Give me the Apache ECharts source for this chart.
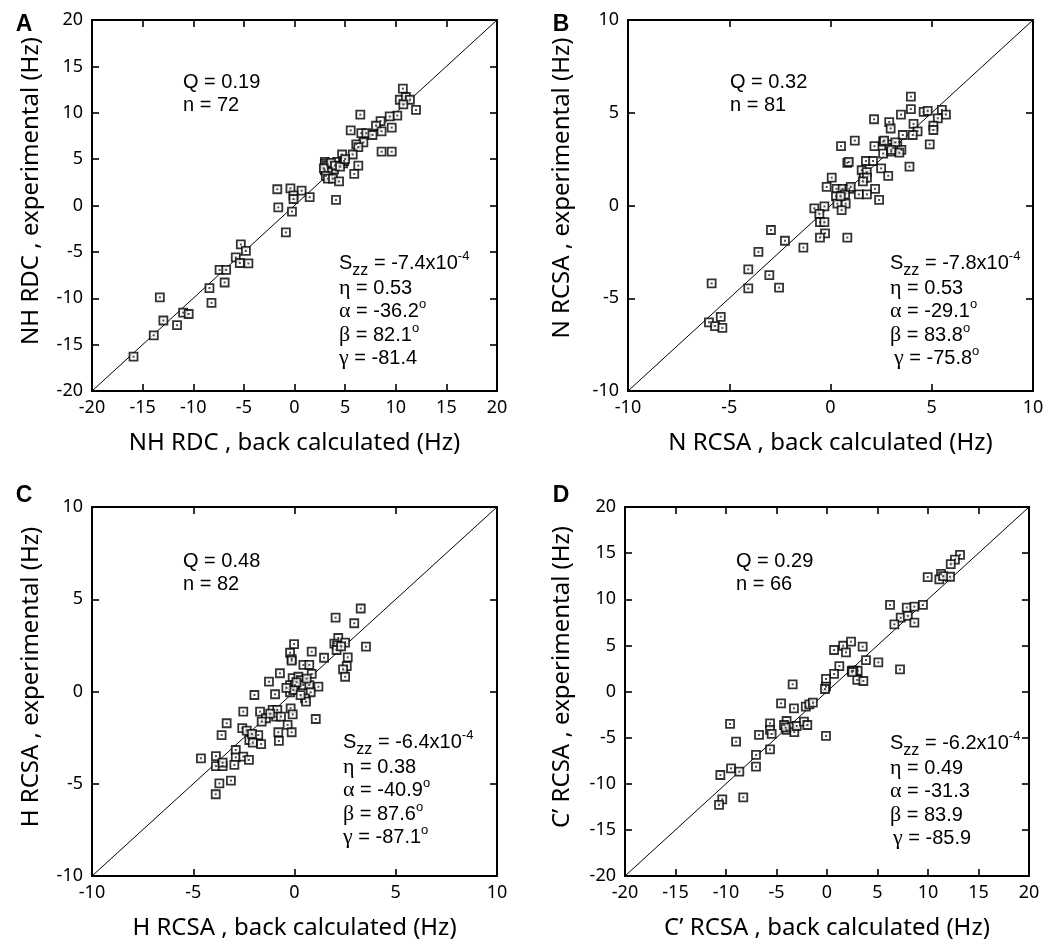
<!DOCTYPE html>
<html><head><meta charset="utf-8">
<script src="https://cdn.jsdelivr.net/npm/echarts@6/dist/echarts.min.js"></script>
<style>html,body{margin:0;padding:0;background:#fff}#c{width:1050px;height:949px}</style>
</head><body><div id="c"></div>
<script>
// ---------- data ----------
const rangeAD = [-20, 20];
const rangeBC = [-10, 10];
const tickStep = 5;

const ptsA = [
 [10.7,12.6],[10.4,11.4],[11.0,11.7],[11.4,11.4],[10.75,10.9],[12.0,10.3],[6.5,9.8],[10.15,9.7],[9.4,9.6],[8.5,9.1],
 [8.05,8.6],[8.6,8.0],[9.6,8.4],[5.55,8.1],[6.6,7.8],[7.1,7.8],[7.7,7.6],[6.8,6.8],[6.1,6.6],[6.3,6.3],
 [5.75,5.5],[4.7,5.5],[8.6,5.8],[9.6,5.8],
 [3.0,4.7],[4.2,4.7],[4.8,4.55],[3.5,4.2],[3.9,3.9],[3.0,3.8],[4.9,4.8],[3.0,4.5],[3.2,4.3],[3.6,4.6],
 [4.0,4.3],[4.5,4.2],[3.3,3.6],[5.0,5.0],[2.9,4.0],
 [6.3,4.3],[5.9,3.4],[3.1,3.2],[3.3,2.9],[3.8,2.9],[4.4,2.6],[4.1,0.6],
 [-1.7,1.75],[-0.4,1.85],[0.7,1.6],[-0.1,1.1],[-0.1,0.7],[1.5,0.9],[-1.6,-0.2],[-0.25,-0.65],[-0.85,-2.9],
 [-5.3,-4.2],[-4.8,-4.9],[-5.8,-5.6],[-5.4,-6.2],[-4.55,-6.25],[-7.4,-6.95],[-6.75,-6.95],[-6.9,-8.3],
 [-8.4,-8.9],[-8.2,-10.5],[-13.3,-9.9],[-11.0,-11.55],[-10.45,-11.7],[-12.95,-12.4],[-11.6,-12.9],[-13.9,-14.0],[-15.9,-16.3]
];
const ptsB = [
 [3.97,5.87],[3.97,5.2],[3.48,4.9],[2.15,4.65],[2.9,4.5],[2.97,4.15],[4.6,5.05],[4.8,5.1],[5.5,5.15],[5.7,4.9],
 [5.3,4.7],[4.1,4.4],[4.3,4.0],[4.06,3.8],[5.08,4.3],[5.08,4.07],[4.9,3.3],[3.57,3.8],[3.9,2.1],[0.52,3.2],
 [1.2,3.5],[2.17,3.2],[2.6,3.45],[2.6,2.8],
 [2.9,3.3],[3.1,3.1],[3.3,3.2],[3.5,3.0],[3.0,2.9],[3.4,2.85],[3.2,3.4],
 [0.83,2.3],[1.75,2.4],[2.1,2.4],[2.5,2.0],[1.54,1.9],[1.79,1.8],[1.65,1.5],[1.8,1.5],[1.6,1.3],[2.85,1.6],
 [0.06,1.5],[-0.19,1.0],[0.3,0.9],[0.6,0.9],[0.93,0.9],[2.2,0.9],[0.27,0.5],[0.72,0.6],[1.4,0.6],[1.8,0.6],
 [2.4,0.3],[0.34,0.1],[0.75,0.1],[0.55,-0.25],[-0.8,-0.15],[-0.3,-0.05],[-0.55,-0.45],
 [-0.52,-0.9],[-0.3,-0.9],[-0.27,-1.5],[-0.52,-1.73],[0.83,-1.73],[-2.94,-1.32],[-2.25,-1.9],[-1.34,-2.27],
 [-3.56,-2.5],[-4.06,-3.44],[-3.02,-3.75],[-4.06,-4.47],[-2.54,-4.43],[-5.87,-4.2],[-5.42,-6.0],[-6.0,-6.3],
 [-5.7,-6.5],[-5.34,-6.6],
 [0.9,2.35],[2.65,3.5],[3.0,3.0],[1.0,1.0],[0.5,0.5]
];
const ptsC = [
 [3.27,4.5],[2.03,4.0],[2.95,3.7],[2.16,2.9],[1.97,2.6],[2.1,2.5],[2.5,2.65],[2.08,2.25],[3.53,2.43],[2.63,1.85],
 [2.58,1.38],[2.4,1.2],[-0.02,2.57],[-0.22,2.1],[-0.14,1.76],[-0.14,1.67],[0.85,2.16],[1.46,1.83],[0.44,1.44],[0.73,1.44],
 [2.5,0.8],[0.85,0.95],[-0.72,0.99],[-1.26,0.53],[-0.09,0.72],[0.19,0.8],[0.31,0.62],[-0.22,0.35],[0.02,0.35],[0.44,0.35],
 [0.73,0.35],[1.18,0.26],[-0.22,-0.04],[-0.06,0.08],[0.8,-0.04],[0.52,-0.37],[0.57,-0.55],[-0.96,-0.15],[-1.98,-0.19],[1.05,-1.49],
 [-0.19,-0.91],[-0.09,-1.24],[-1.08,-1.0],[-0.85,-1.0],[-0.91,-1.36],[-0.67,-1.36],[-1.7,-1.09],[-2.53,-1.09],[-1.41,-1.45],[-1.62,-1.63],
 [-0.34,-1.81],[-0.14,-2.21],[-0.8,-2.21],[-0.77,-2.68],[-3.35,-1.72],[-2.58,-1.99],[-2.36,-2.12],[-3.6,-2.36],[-1.79,-2.36],[-2.23,-2.63],
 [-2.06,-2.77],[-1.65,-2.85],[-2.9,-3.17],[-3.88,-3.5],[-4.62,-3.62],[-2.9,-3.57],[-2.53,-3.53],[-2.25,-3.71],[-3.88,-4.04],[-3.55,-4.04],
 [-3.55,-3.86],[-2.97,-3.98],[-3.71,-4.98],[-3.14,-4.83],[-3.89,-5.57],
 [0.1,0.5],[0.6,0.7],[-0.4,0.2],[0.3,-0.2],[-1.2,-1.2],[-2.1,-2.3],[2.3,2.45]
];
const ptsD = [
 [13.17,14.8],[12.67,14.3],[12.25,13.8],[9.97,12.4],[11.29,12.74],[11.12,12.16],[12.18,12.44],[6.24,9.38],[7.9,9.1],[8.65,9.2],
 [9.5,9.38],[7.3,8.0],[8.0,8.2],[6.67,7.28],[8.65,7.46],[0.7,4.5],[1.6,4.96],[2.38,5.4],[1.88,4.25],[3.53,4.86],
 [3.86,3.41],[5.08,3.16],[1.22,2.76],[7.23,2.4],
 [2.45,2.25],[3.04,2.25],[2.6,2.25],[3.0,1.25],[3.6,1.14],[0.7,1.9],[-0.1,1.36],[-0.1,0.52],[-0.2,0.27],[-3.4,0.78],
 [-4.55,-1.28],[-3.27,-1.82],[-2.1,-1.65],[-1.75,-1.39],[-1.4,-1.21],[-5.64,-3.45],[-5.64,-4.17],[-5.48,-4.6],[-6.73,-4.7],[-4.0,-3.2],
 [-4.0,-4.17],[-3.66,-3.8],[-3.24,-4.4],[-4.26,-3.63],[-3.0,-3.74],[-2.28,-3.27],[-1.95,-3.63],[-0.1,-4.82],[-9.6,-3.52],[-9.0,-5.44],
 [-5.64,-6.27],[-7.03,-6.88],[-7.03,-8.15],[-9.5,-8.33],[-8.68,-8.69],[-10.56,-9.05],[-8.29,-11.47],[-10.37,-11.69],[-10.69,-12.3],
 [-4.1,-3.9],[2.5,2.1],[11.5,12.5]
];

const letters = ['A','B','C','D'];
const xTitles = ['NH RDC , back calculated (Hz)','N RCSA , back calculated (Hz)','H RCSA , back calculated (Hz)','C\u2019 RCSA , back calculated (Hz)'];
const yTitles = ['NH RDC , experimental (Hz)','N RCSA , experimental (Hz)','H RCSA , experimental (Hz)','C\u2019 RCSA , experimental (Hz)'];
const qValues = ['0.19','0.32','0.48','0.29'];
const nValues = ['72','81','82','66'];
const szzValues = ['-7.4','-7.8','-6.4','-6.2'];
const etaValues = ['0.53','0.53','0.38','0.49'];
const alphaValues = ['-36.2','-29.1','-40.9','-31.3'];
const betaValues = ['82.1','83.8','87.6','83.9'];
const gammaValues = ['-81.4','-75.8','-87.1','-85.9'];
const alphaDeg = [true,true,true,false];
const betaDeg = [true,true,true,false];
const gammaDeg = [false,true,true,false];

// ---------- layout ----------
const panels = [
 {pts: ptsA, range: rangeAD, grid:{left:92, top:20, width:405, height:371}, letter:[24,25], yt:[31,191], q:[183,82], st:[339,263], gx:0},
 {pts: ptsB, range: rangeBC, grid:{left:628, top:20, width:405, height:371}, letter:[561,25], yt:[562,188], q:[730,82], st:[890,263], gx:4},
 {pts: ptsC, range: rangeBC, grid:{left:92, top:507, width:405, height:369}, letter:[24,496], yt:[31,677], q:[183,561], st:[343,742], gx:0},
 {pts: ptsD, range: rangeAD, grid:{left:625, top:507, width:404, height:369}, letter:[561,496], yt:[562,677], q:[736,561], st:[890,743], gx:3}
];

const tickFont = 'Noto Sans';
const titleFont = 'Noto Sans';
const annFont = 'Liberation Sans';
const greekFont = 'Liberation Serif';

const grids = [], xAxes = [], yAxes = [], series = [], graphics = [];

function axisCommon(range){
  return {
    type:'value', min: range[0], max: range[1], interval: tickStep,
    axisLine:{show:true, onZero:false, lineStyle:{color:'#000', width:2}},
    axisTick:{show:true, inside:true, length:7, lineStyle:{color:'#000', width:1.6}},
    splitLine:{show:false}
  };
}
const lblStyle = {color:'#000', fontSize:18, fontFamily:tickFont, showMinLabel:true, showMaxLabel:true};

const richBase = {
  t:{fontSize:20, fontFamily:annFont, fill:'#000'},
  g:{fontSize:22, fontFamily:greekFont, fill:'#000'},
  sub:{fontSize:16, fontFamily:annFont, fill:'#000', padding:[15,0,0,0]},
  sup:{fontSize:13, fontFamily:annFont, fill:'#000', padding:[0,0,14,0]},
  deg:{fontSize:13, fontFamily:annFont, fill:'#000', padding:[0,0,14,0]}
};
function rtext(x, y, text){
  return {type:'text', x:x, y:y, z:100, style:{text:text, rich:richBase, align:'left', verticalAlign:'middle', fill:'#000', fontSize:20, fontFamily:annFont}};
}

panels.forEach((p, i) => {
  grids.push(Object.assign({containLabel:false}, p.grid));
  const xb = Object.assign(axisCommon(p.range), {gridIndex:i, position:'bottom', axisLabel:Object.assign({margin:8}, lblStyle)});
  const xt = Object.assign(axisCommon(p.range), {gridIndex:i, position:'top', axisLabel:{show:false}});
  const yl = Object.assign(axisCommon(p.range), {gridIndex:i, position:'left', axisLabel:Object.assign({margin:9}, lblStyle)});
  const yr = Object.assign(axisCommon(p.range), {gridIndex:i, position:'right', axisLabel:{show:false}});
  xAxes.push(xb, xt); yAxes.push(yl, yr);
  const xi = 2*i, yi = 2*i;
  series.push({type:'line', xAxisIndex:xi, yAxisIndex:yi, data:[[p.range[0],p.range[0]],[p.range[1],p.range[1]]],
    symbol:'none', silent:true, z:1, lineStyle:{color:'#000', width:1}});
  series.push({type:'scatter', xAxisIndex:xi, yAxisIndex:yi, data:p.pts, symbol:'rect', symbolSize:8, z:3,
    itemStyle:{color:'#fff', borderColor:'#000', borderWidth:1.8}});
  series.push({type:'scatter', xAxisIndex:xi, yAxisIndex:yi, data:p.pts, symbol:'rect', symbolSize:2, z:4, silent:true,
    itemStyle:{color:'#222'}});

  const g = p.grid;
  graphics.push({type:'text', x:p.letter[0], y:p.letter[1], style:{text:letters[i], fontSize:23, fontWeight:'bold', fontFamily:annFont, fill:'#000', align:'center', verticalAlign:'middle'}});
  graphics.push({type:'text', x:p.yt[0], y:p.yt[1], rotation:Math.PI/2, style:{text:yTitles[i], fontSize:24, fontFamily:titleFont, fill:'#000', align:'center', verticalAlign:'middle'}});
  graphics.push({type:'text', x:g.left + g.width/2, y:g.top + g.height + 52, style:{text:xTitles[i], fontSize:24, fontFamily:titleFont, fill:'#000', align:'center', verticalAlign:'middle'}});
  graphics.push(rtext(p.q[0], p.q[1], '{t|Q = ' + qValues[i] + '}'));
  graphics.push(rtext(p.q[0], p.q[1] + 23, '{t|n = ' + nValues[i] + '}'));
  const sx = p.st[0], sy = p.st[1];
  graphics.push(rtext(sx, sy, '{t|S}{sub|zz}{t| = ' + szzValues[i] + 'x10}{sup|-4}'));
  graphics.push(rtext(sx, sy + 25, '{g|\u03B7}{t| = ' + etaValues[i] + '}'));
  graphics.push(rtext(sx, sy + 48, '{g|\u03B1}{t| = ' + alphaValues[i] + '}' + (alphaDeg[i] ? '{deg|o}' : '')));
  graphics.push(rtext(sx, sy + 72, '{g|\u03B2}{t| = ' + betaValues[i] + '}' + (betaDeg[i] ? '{deg|o}' : '')));
  graphics.push(rtext(sx + p.gx, sy + 95, '{g|\u03B3}{t| = ' + gammaValues[i] + '}' + (gammaDeg[i] ? '{deg|o}' : '')));
});

const chart = echarts.init(document.getElementById('c'), null, {renderer:'canvas'});
chart.setOption({
  animation:false,
  backgroundColor:'#fff',
  grid:grids, xAxis:xAxes, yAxis:yAxes, series:series, graphic:graphics
});
</script>
</body></html>
